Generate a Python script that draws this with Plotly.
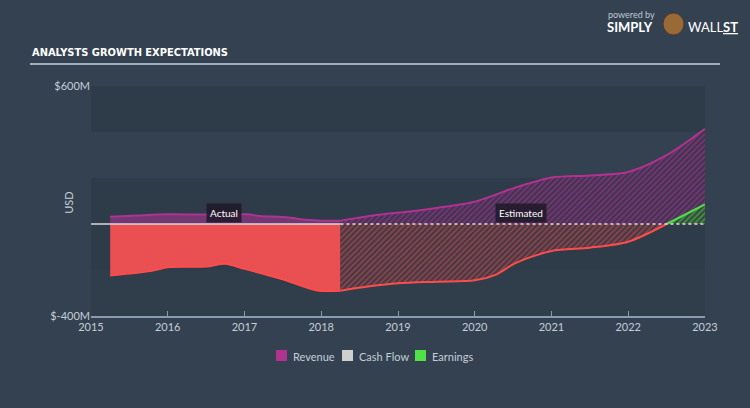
import plotly.graph_objects as go

# ---- data (USD millions) ----
rev_act_x = [2015.25, 2015.6, 2016.0, 2016.5, 2016.85, 2017.05, 2017.2, 2017.55, 2017.8, 2018.0, 2018.25]
rev_act_y = [32, 37, 42, 41, 44, 42, 35, 29, 18, 14, 14]
rev_est_x = [2018.25, 2018.75, 2019.0, 2019.5, 2020.0, 2020.5, 2021.0, 2021.5, 2022.0, 2022.5, 2023.0]
rev_est_y = [14, 40, 49, 70, 97, 155, 202, 211, 226, 299, 414]

earn_act_x = [2015.25, 2015.75, 2016.0, 2016.5, 2016.75, 2017.0, 2017.5, 2017.95, 2018.25]
earn_act_y = [-224, -206, -188, -185, -173, -195, -240, -289, -290]
earn_est_x = [2018.25, 2018.63, 2019.0, 2019.5, 2020.0, 2020.27, 2020.53, 2021.0, 2021.5, 2022.0, 2022.5]
earn_est_y = [-290, -271, -258, -251, -245, -221, -170, -117, -103, -77, 0]
earn_pos_x = [2022.5, 2023.0]
earn_pos_y = [0, 85]

cash_act_x = [2015.0, 2018.25]
cash_act_y = [0, 0]
cash_est_x = [2018.25, 2023.0]
cash_est_y = [0, 0]

year_ticks = [2015, 2016, 2017, 2018, 2019, 2020, 2021, 2022, 2023]
y_ticks = [-400, 600]
y_labels = ["$-400M", "$600M"]
legend_names = ["Revenue", "Cash Flow", "Earnings"]
legend_colors = ["#b0338f", "#cfcfcf", "#4fe04a"]

BG = "#334150"
PLOT_BG = "#2e3b49"
TXT = "#c5ced8"
FONT = "Lato"

def px_x(p):
    return (p - 91) / 614.0

def px_y(p):
    return (316 - p) / 230.0

fig = go.Figure()

# Revenue
fig.add_trace(go.Scatter(x=rev_act_x, y=rev_act_y, mode="lines", line=dict(color="#a9378f", width=2, shape="spline", smoothing=0.8),
                         fill="tozeroy", fillcolor="rgba(140,55,130,0.75)", showlegend=False, hoverinfo="skip"))
fig.add_trace(go.Scatter(x=rev_est_x, y=rev_est_y, mode="lines", line=dict(color="#b0338f", width=2, shape="spline", smoothing=0.8),
                         fill="tozeroy", fillcolor="rgba(0,0,0,0)",
                         fillpattern=dict(shape="/", fgcolor="#ad368f", bgcolor="#3d3450", size=4, solidity=0.5),
                         showlegend=False, hoverinfo="skip"))
# Earnings
fig.add_trace(go.Scatter(x=earn_act_x, y=earn_act_y, mode="lines", line=dict(color="#ff4c4c", width=2, shape="spline", smoothing=0.8),
                         fill="tozeroy", fillcolor="#ea4f51", showlegend=False, hoverinfo="skip"))
fig.add_trace(go.Scatter(x=earn_est_x, y=earn_est_y, mode="lines", line=dict(color="#ff4c4c", width=2, shape="spline", smoothing=0.8),
                         fill="tozeroy", fillcolor="rgba(0,0,0,0)",
                         fillpattern=dict(shape="/", fgcolor="#e04a4a", bgcolor="#3b3a46", size=4, solidity=0.5),
                         showlegend=False, hoverinfo="skip"))
fig.add_trace(go.Scatter(x=earn_pos_x, y=earn_pos_y, mode="lines", line=dict(color="#4fe04a", width=2),
                         fill="tozeroy", fillcolor="rgba(0,0,0,0)",
                         fillpattern=dict(shape="/", fgcolor="#4fd048", bgcolor="#34483f", size=4, solidity=0.5),
                         showlegend=False, hoverinfo="skip"))
# Cash flow
fig.add_trace(go.Scatter(x=cash_act_x, y=cash_act_y, mode="lines", line=dict(color="#d8d8d8", width=1.5),
                         showlegend=False, hoverinfo="skip"))
fig.add_trace(go.Scatter(x=cash_est_x, y=cash_est_y, mode="lines", line=dict(color="#f0d8d8", width=1.5, dash="dot"),
                         showlegend=False, hoverinfo="skip"))

# background bands
bands = [(600, 400, "#2e3b49"), (400, 200, "#334150"), (200, 0, "#2e3b49"), (0, -200, "#2e3b49"), (-200, -400, "#303e4c")]
for y0, y1, c in bands:
    fig.add_shape(type="rect", xref="x", yref="y", x0=2015, x1=2023, y0=y1, y1=y0,
                  fillcolor=c, line_width=0, layer="below")

# title underline
fig.add_shape(type="line", xref="paper", yref="paper", x0=px_x(30), x1=px_x(720), y0=px_y(64), y1=px_y(64),
              line=dict(color="#c8d0d8", width=1.5))

ann = [
    dict(text="<b>ANALYSTS GROWTH EXPECTATIONS</b>", x=px_x(30), y=px_y(53), xanchor="left", yanchor="middle",
         font=dict(family="DejaVu Sans Condensed", size=11, color="#ffffff"), showarrow=False),
    dict(text="USD", x=px_x(60), y=0.49, textangle=-90, font=dict(family=FONT, size=11, color=TXT), showarrow=False),
    dict(text="Actual", x=2016.73, y=48, xref="x", yref="y", yanchor="middle", font=dict(family=FONT, size=10, color="#ffffff"),
         bgcolor="rgba(30,25,40,0.85)", borderpad=3, showarrow=False),
    dict(text="Estimated", x=2020.6, y=48, xref="x", yref="y", yanchor="middle", font=dict(family=FONT, size=10, color="#ffffff"),
         bgcolor="rgba(30,25,40,0.85)", borderpad=3, showarrow=False),
    dict(text="powered by", x=px_x(606), y=px_y(14), xanchor="left", yanchor="middle", font=dict(family=FONT, size=9, color="#c0c8d0"), showarrow=False),
    dict(text="<b>SIMPLY</b>", x=px_x(605), y=px_y(27), xanchor="left", yanchor="middle", font=dict(family=FONT, size=13, color="#ffffff"), showarrow=False),
    dict(text="WALL<b><u>ST</u></b>", x=px_x(686), y=px_y(27), xanchor="left", yanchor="middle", font=dict(family=FONT, size=13, color="#ffffff"), showarrow=False),
]
# custom legend (squares + labels)
leg_sq = [276, 342, 415]
for name, col, sx in zip(legend_names, legend_colors, leg_sq):
    fig.add_shape(type="rect", xref="paper", yref="paper", x0=px_x(sx), x1=px_x(sx + 11), y0=px_y(361), y1=px_y(350),
                  fillcolor=col, line_width=0)
    ann.append(dict(text=name, x=px_x(sx + 15), y=px_y(356), xanchor="left", yanchor="middle",
                    font=dict(family=FONT, size=11, color=TXT), showarrow=False))

for a in ann:
    a.setdefault("xref", "paper")
    a.setdefault("yref", "paper")
fig.update_layout(annotations=ann)

# bull logo placeholder
fig.add_shape(type="circle", xref="paper", yref="paper", x0=px_x(663), x1=px_x(684), y0=px_y(35), y1=px_y(13),
              fillcolor="#9a6a36", line=dict(color="#4a3a30", width=1))

fig.update_layout(
    width=750, height=408,
    margin=dict(l=91, r=45, t=86, b=92),
    paper_bgcolor=BG, plot_bgcolor=PLOT_BG,
    font=dict(family=FONT, color=TXT, size=11),
    showlegend=False,
    xaxis=dict(range=[2015, 2023], tickvals=year_ticks, ticktext=[str(t) for t in year_ticks],
               showgrid=False, zeroline=False, showline=True, linecolor="#8a9bb0", linewidth=1.5,
               ticks="inside", ticklen=5, tickcolor="#8a9bb0", tickfont=dict(size=11, color=TXT)),
    yaxis=dict(range=[-400, 600], tickvals=y_ticks, ticktext=y_labels, showgrid=False, zeroline=False,
               showline=False, ticks="", tickfont=dict(size=11, color=TXT)),
)

fig.write_html("out.html")
